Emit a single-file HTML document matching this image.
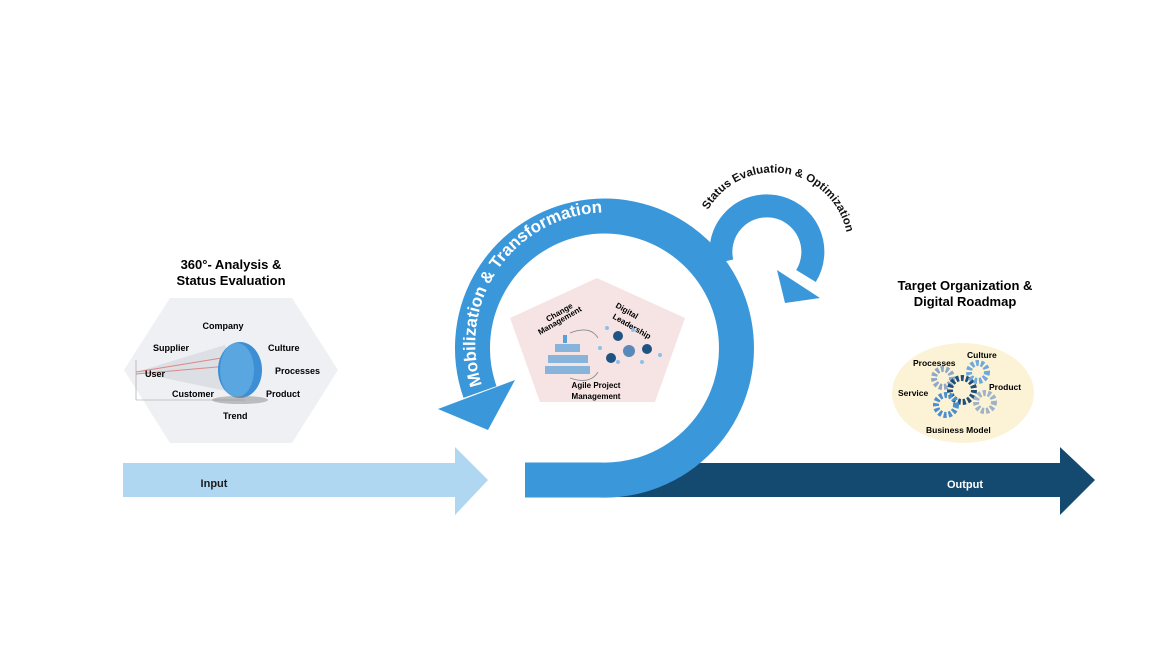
<!DOCTYPE html>
<html><head><meta charset="utf-8"><style>
html,body{margin:0;padding:0;background:#fff}
svg{display:block;font-family:"Liberation Sans",Arial,sans-serif}
</style></head><body>
<svg width="1170" height="658" viewBox="0 0 1170 658" xmlns="http://www.w3.org/2000/svg">
<defs>
<path id="mob" d="M482,385 A131,131 0 0 1 650,220"/>
<path id="sta" d="M708,210 A68,68 0 0 1 838,285"/>
</defs>
<!-- left hexagon -->
<polygon points="170,298 292,298 338,370 292,443 170,443 124,370" fill="#eef0f4"/>
<text x="231" y="269" font-size="13" font-weight="bold" text-anchor="middle">360°- Analysis &amp;</text>
<text x="231" y="285" font-size="13" font-weight="bold" text-anchor="middle">Status Evaluation</text>
<path d="M136,372 L225,345 L245,395 Z" fill="#dcdfe4"/>
<line x1="136" y1="372" x2="240" y2="355" stroke="#d88" stroke-width="1"/>
<line x1="136" y1="374" x2="240" y2="365" stroke="#d88" stroke-width="1"/>
<line x1="136" y1="360" x2="136" y2="400" stroke="#999" stroke-width="0.6"/>
<line x1="136" y1="400" x2="245" y2="400" stroke="#999" stroke-width="0.6"/>
<ellipse cx="240" cy="370" rx="22" ry="28" fill="#3c8fd4"/>
<ellipse cx="237" cy="370" rx="17" ry="27" fill="#5aa6e0"/>
<ellipse cx="240" cy="400" rx="28" ry="4" fill="#888" opacity="0.5"/>
<g font-size="9" font-weight="bold">
<text x="223" y="329" text-anchor="middle">Company</text>
<text x="153" y="351">Supplier</text>
<text x="268" y="351">Culture</text>
<text x="145" y="377">User</text>
<text x="275" y="374">Processes</text>
<text x="172" y="397">Customer</text>
<text x="266" y="397">Product</text>
<text x="223" y="419">Trend</text>
</g>
<!-- input arrow -->
<polygon points="123,463 455,463 455,447 488,480 455,515 455,497 123,497" fill="#b0d7f1"/>
<text x="214" y="487" font-size="11" font-weight="bold" fill="#1a1a1a" text-anchor="middle">Input</text>
<!-- output arrow -->
<polygon points="600,463 1060,463 1060,447 1095,480 1060,515 1060,497 600,497" fill="#154a70"/>
<text x="965" y="488" font-size="11" font-weight="bold" fill="#fff" text-anchor="middle">Output</text>
<!-- small loop -->
<path d="M722,262 A46,46 0 1 1 806,276" fill="none" stroke="#3a97da" stroke-width="23"/>
<polygon points="785,303 777,270 820,298" fill="#3a97da"/>
<!-- big ring -->
<path d="M525,480 L600,480 A132,132 0 1 0 480,392" fill="none" stroke="#3a97da" stroke-width="35"/>
<rect x="525" y="463" width="70" height="34" fill="#3a97da"/>
<polygon points="438,409 515,380 488,430" fill="#3a97da"/>
<!-- pentagon -->
<polygon points="597,278 685,318 655,402 540,402 510,318" fill="#f6e4e4"/>
<g font-size="8" font-weight="bold">
<text x="548" y="322" transform="rotate(-30 548 322)">Change</text>
<text x="540" y="335" transform="rotate(-30 540 335)">Management</text>
<text x="615" y="307" transform="rotate(30 615 307)">Digital</text>
<text x="612" y="318" transform="rotate(30 612 318)">Leadership</text>
<text x="596" y="388" text-anchor="middle">Agile Project</text>
<text x="596" y="399" text-anchor="middle">Management</text>
</g>
<g fill="#5aa0d8">
<rect x="563" y="335" width="4" height="8"/><rect x="555" y="344" width="25" height="8" opacity="0.7"/>
<rect x="548" y="355" width="40" height="8" opacity="0.7"/><rect x="545" y="366" width="45" height="8" opacity="0.7"/>
</g>
<path d="M570,333 Q590,325 598,338 M570,378 Q590,385 598,372" fill="none" stroke="#888" stroke-width="0.8"/>
<g fill="#1f5482"><circle cx="618" cy="336" r="5"/><circle cx="629" cy="351" r="6" fill="#5a88b8"/><circle cx="647" cy="349" r="5"/><circle cx="611" cy="358" r="5"/></g>
<g fill="#8cc0ea"><circle cx="607" cy="328" r="2"/><circle cx="633" cy="330" r="2"/><circle cx="660" cy="355" r="2"/><circle cx="600" cy="348" r="2"/><circle cx="618" cy="362" r="2"/><circle cx="642" cy="362" r="2"/></g>
<text font-size="17" font-weight="bold" fill="#fff"><textPath href="#mob">Mobilization &amp; Transformation</textPath></text>
<text font-size="11.5" font-weight="bold" fill="#111"><textPath href="#sta">Status Evaluation &amp; Optimization</textPath></text>
<!-- right -->
<text x="965" y="290" font-size="13" font-weight="bold" text-anchor="middle">Target Organization &amp;</text>
<text x="965" y="306" font-size="13" font-weight="bold" text-anchor="middle">Digital Roadmap</text>
<ellipse cx="963" cy="393" rx="71" ry="50" fill="#fcf3d6"/>
<g fill="none" stroke-dasharray="3 2">
<circle cx="943" cy="378" r="9" stroke="#8fa8c4" stroke-width="6"/>
<circle cx="962" cy="390" r="12" stroke="#1f4f78" stroke-width="6"/>
<circle cx="978" cy="372" r="9" stroke="#6fa8dc" stroke-width="6"/>
<circle cx="985" cy="402" r="9" stroke="#9fb3c8" stroke-width="6"/>
<circle cx="946" cy="405" r="10" stroke="#4a8fd0" stroke-width="6"/>
</g>
<g font-size="8.5" font-weight="bold">
<text x="913" y="366">Processes</text>
<text x="967" y="358">Culture</text>
<text x="989" y="390">Product</text>
<text x="898" y="396">Service</text>
<text x="926" y="433">Business Model</text>
</g>
</svg>
</body></html>
